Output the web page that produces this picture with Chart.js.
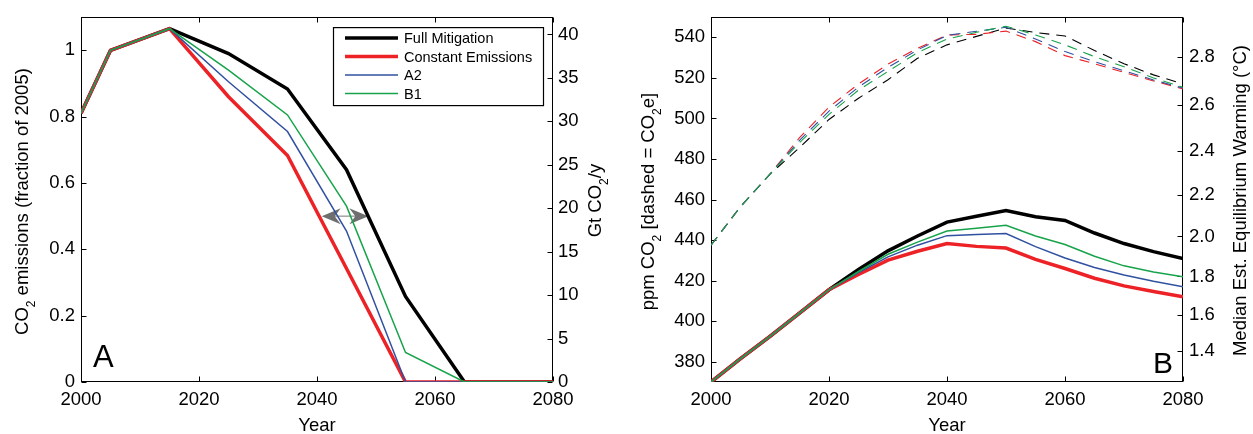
<!DOCTYPE html>
<html>
<head>
<meta charset="utf-8">
<script src="https://cdn.jsdelivr.net/npm/chart.js@4.4.0/dist/chart.umd.min.js"></script>
<style>
  html, body { margin: 0; padding: 0; background: #fff; }
  #wrap { position: relative; width: 1253px; height: 434px; }
  canvas { position: absolute; top: 0; }
  #chartA { left: 0; }
  #chartB { left: 626px; }
</style>
</head>
<body>
<div id="wrap">
  <canvas id="chartA" width="626" height="434"></canvas>
  <canvas id="chartB" width="627" height="434"></canvas>
</div>
<script>
// ---- panel A : emissions (fraction of 2005) ----
const emisYears  = [2000, 2005, 2015, 2025, 2035, 2045, 2055, 2065, 2080];
const emisFull   = [0.81, 1.0, 1.065, 0.99, 0.883, 0.64, 0.258, 0, 0];
const emisConst  = [0.81, 1.0, 1.065, 0.86, 0.683, 0.342, 0, 0, 0];
const emisA2     = [0.81, 1.0, 1.065, 0.905, 0.755, 0.455, 0, 0, 0];
const emisB1     = [0.81, 1.0, 1.065, 0.94, 0.805, 0.53, 0.089, 0, 0];
const fracTicks  = [0, 0.2, 0.4, 0.6, 0.8, 1];
const gtTicks    = [0, 5, 10, 15, 20, 25, 30, 35, 40];
const arrowYears = [2040.8, 2048.7];
const arrowValue = 0.5;

// ---- panel B : concentrations ----
const concYears  = [2000, 2005, 2010, 2015, 2020, 2025, 2030, 2035, 2040, 2045, 2050, 2055, 2060, 2065, 2070, 2075, 2080];
const co2Full    = [370, 381.5, 392.5, 404, 415.5, 425.5, 434.7, 442, 448.9, 451.8, 454.6, 451.5, 449.7, 443.5, 438.3, 434.3, 430.9];
const co2Const   = [370, 381.5, 392.5, 404, 415.5, 423, 430.1, 434.5, 438.3, 436.9, 436.1, 430.5, 426, 421.2, 417.4, 414.6, 412.1];
const co2A2      = [370, 381.5, 392.5, 404, 415.5, 424, 431.7, 437.5, 442.2, 442.7, 443.2, 436.8, 431.2, 426.5, 422.8, 419.7, 417];
const co2B1      = [370, 381.5, 392.5, 404, 415.5, 424.5, 433, 439, 444.5, 445.8, 447.3, 442, 437.8, 432, 427.3, 424.3, 421.9];
const co2eFull   = [437.5, 456.5, 472.5, 485.6, 499.5, 510, 519.1, 529.7, 536.3, 540.5, 544.6, 542.4, 540.7, 533.5, 527, 521.5, 517];
const co2eConst  = [437.5, 456.5, 472.5, 490.5, 505.6, 517, 526.8, 534.6, 541.2, 541.5, 543.1, 537.9, 531, 527, 522.7, 518.5, 514.6];
const co2eA2     = [437.5, 456.5, 472.5, 489.2, 503.6, 515.5, 525.2, 533.8, 541, 543, 545, 539.2, 533, 528, 523.5, 519, 515];
const co2eB1     = [437.5, 456.5, 472.5, 488.1, 502, 514, 523.2, 532.5, 539.2, 542.5, 545.5, 541.2, 536.3, 530.5, 525.5, 520, 515.4];
const ppmTicks   = [380, 400, 420, 440, 460, 480, 500, 520, 540];
const warmTicks  = [1.4, 1.6, 1.8, 2.0, 2.2, 2.4, 2.6, 2.8];
const sensitivity = 3.04;   // degC per doubling, pre-industrial 280 ppm
const preIndustrial = 280;

const yearTicks = [2000, 2020, 2040, 2060, 2080];
const seriesNames = ['Full Mitigation', 'Constant Emissions', 'A2', 'B1'];
const colors = ['#000000', '#ec2227', '#3050a0', '#17a34a'];
const widths = [3.5, 3.5, 1.5, 1.5];

const FONT = '"Liberation Sans", Arial, Helvetica, sans-serif';
Chart.defaults.font.family = FONT;
Chart.defaults.color = '#000';

function pts(xs, ys) { return xs.map((x, i) => ({ x: x, y: ys[i] })); }
function warmToPpm(t) { return preIndustrial * Math.pow(2, t / sensitivity); }

// draw text made of parts, some of them subscripts; rotated about (x, y) baseline-centre
function richText(ctx, parts, x, y, rot, size) {
  ctx.save();
  ctx.translate(x, y);
  ctx.rotate(rot);
  ctx.textBaseline = 'alphabetic';
  ctx.textAlign = 'left';
  let total = 0;
  const w = parts.map(p => {
    ctx.font = (p[1] ? size * 0.65 : size) + 'px ' + FONT;
    const m = ctx.measureText(p[0]).width;
    total += m;
    return m;
  });
  let cx = -total / 2;
  parts.forEach((p, i) => {
    ctx.font = (p[1] ? size * 0.65 : size) + 'px ' + FONT;
    ctx.fillText(p[0], cx, p[1] ? size * 0.38 : 0);
    cx += w[i];
  });
  ctx.restore();
}

// box around the plot and MATLAB-style inward ticks
const frame = {
  id: 'frame',
  beforeDatasetsDraw(chart) {
    const { ctx, chartArea: a } = chart;
    const L = Math.round(a.left) + 0.5, R = Math.round(a.right) - 0.5;
    const T = Math.round(a.top) + 0.5, B = Math.round(a.bottom) - 0.5;
    ctx.save();
    ctx.strokeStyle = '#000';
    ctx.lineWidth = 1;
    ctx.strokeRect(L, T, R - L, B - T);
    ctx.beginPath();
    Object.values(chart.scales).forEach(s => {
      s.ticks.forEach(t => {
        const p = Math.round(s.getPixelForValue(t.value)) + 0.5;
        if (s.isHorizontal()) {
          ctx.moveTo(p, B); ctx.lineTo(p, B - 5);
          ctx.moveTo(p, T); ctx.lineTo(p, T + 5);
        } else if (s.position === 'left') {
          ctx.moveTo(L, p); ctx.lineTo(L + 5, p);
        } else {
          ctx.moveTo(R, p); ctx.lineTo(R - 5, p);
        }
      });
    });
    ctx.stroke();
    ctx.restore();
  }
};

// axis titles, panel letter, legend, arrow
const decor = {
  id: 'decor',
  beforeDatasetsDraw(chart, args, opts) {
    if (!opts.arrow) return;
    const { ctx } = chart;
    const x1 = chart.scales.x.getPixelForValue(opts.arrow.from);
    const x2 = chart.scales.x.getPixelForValue(opts.arrow.to);
    const y = chart.scales.y.getPixelForValue(opts.arrow.value);
    ctx.save();
    ctx.strokeStyle = '#777';
    ctx.lineWidth = 1;
    ctx.beginPath(); ctx.moveTo(x1 + 12, y); ctx.lineTo(x2 - 12, y); ctx.stroke();
    ctx.fillStyle = '#6e6e6e';
    [[x1, 1], [x2, -1]].forEach(([tx, d]) => {
      ctx.beginPath();
      ctx.moveTo(tx, y);
      ctx.lineTo(tx + d * 19, y - 8);
      ctx.lineTo(tx + d * 13, y);
      ctx.lineTo(tx + d * 19, y + 8);
      ctx.closePath();
      ctx.fill();
    });
    ctx.restore();
  },
  afterDraw(chart, args, opts) {
    const { ctx, chartArea: a } = chart;
    const midY = (a.top + a.bottom) / 2;
    const size = 18.5;
    ctx.save();
    ctx.fillStyle = '#000';
    if (opts.leftTitle) richText(ctx, opts.leftTitle, a.left - opts.leftGap, midY + 2, -Math.PI / 2, size);
    if (opts.rightTitle) richText(ctx, opts.rightTitle, a.right + opts.rightGap, midY + 1, -Math.PI / 2, size);
    richText(ctx, [['Year', false]], (a.left + a.right) / 2, 431, 0, size);
    // panel letter
    ctx.font = opts.letter.size + 'px ' + FONT;
    ctx.textBaseline = 'alphabetic';
    ctx.textAlign = 'left';
    ctx.fillText(opts.letter.text, a.left + opts.letter.dx, a.bottom - opts.letter.dy);
    // legend
    if (opts.legend) {
      const bx = a.right - 220, by = a.top + 10, bw = 210, bh = 78;
      ctx.fillStyle = '#fff';
      ctx.fillRect(bx, by, bw, bh);
      ctx.strokeStyle = '#000';
      ctx.lineWidth = 1.2;
      ctx.strokeRect(bx + 0.5, by + 0.5, bw, bh);
      ctx.font = '14.5px ' + FONT;
      ctx.textBaseline = 'middle';
      seriesNames.forEach((name, i) => {
        const ry = by + 11 + i * 18.5;
        ctx.strokeStyle = colors[i];
        ctx.lineWidth = widths[i];
        ctx.beginPath(); ctx.moveTo(bx + 12, ry); ctx.lineTo(bx + 65, ry); ctx.stroke();
        ctx.fillStyle = '#000';
        ctx.fillText(name, bx + 71, ry + 1);
      });
    }
    ctx.restore();
  }
};

function lineSet(label, data, i, dashed, yAxisID) {
  return {
    label: label,
    data: data,
    borderColor: colors[i],
    borderWidth: dashed ? 1.1 : widths[i],
    borderDash: dashed ? [10, 7] : [],
    pointRadius: 0,
    tension: 0,
    fill: false,
    borderJoinStyle: 'miter',
    yAxisID: yAxisID,
    order: 3 - i + (dashed ? 10 : 0)
  };
}

function xScale() {
  return {
    type: 'linear', position: 'bottom', min: 2000, max: 2080,
    afterBuildTicks: s => { s.ticks = yearTicks.map(v => ({ value: v })); },
    afterFit: s => { s.height = 52; },
    grid: { display: false, drawTicks: false },
    border: { display: false },
    ticks: { font: { size: 18.5 }, padding: 7, maxRotation: 0, callback: v => String(v) }
  };
}

function baseOptions() {
  return {
    responsive: false,
    animation: false,
    devicePixelRatio: 1,
    events: [],
    layout: { padding: { top: 15, left: 0, right: 0, bottom: 0 } },
    plugins: { legend: { display: false }, tooltip: { enabled: false } }
  };
}

// ---------- chart A ----------
const optsA = baseOptions();
optsA.scales = {
  x: xScale(),
  y: {
    type: 'linear', position: 'left', min: 0, max: 1.1,
    afterBuildTicks: s => { s.ticks = fracTicks.map(v => ({ value: v })); },
    afterFit: s => { s.width = 81; },
    grid: { display: false, drawTicks: false },
    border: { display: false },
    ticks: { font: { size: 18.5 }, padding: 6, callback: (v, i) => String(fracTicks[i]) }
  },
  y2: {
    type: 'linear', position: 'right', min: 0, max: 42,
    afterBuildTicks: s => { s.ticks = gtTicks.map(v => ({ value: v })); },
    afterFit: s => { s.width = 73; },
    grid: { display: false, drawTicks: false },
    border: { display: false },
    ticks: { font: { size: 18.5 }, padding: 5, callback: (v, i) => String(gtTicks[i]) }
  }
};
optsA.plugins.decor = {
  leftTitle: [['CO', false], ['2', true], [' emissions (fraction of 2005)', false]],
  leftGap: 53.5,
  rightTitle: [['Gt CO', false], ['2', true], ['/y', false]],
  rightGap: 48,
  letter: { text: 'A', size: 31, dx: 12, dy: 15 },
  legend: true,
  arrow: { from: arrowYears[0], to: arrowYears[1], value: arrowValue }
};

new Chart(document.getElementById('chartA'), {
  type: 'line',
  data: {
    datasets: [
      lineSet(seriesNames[0], pts(emisYears, emisFull), 0, false, 'y'),
      lineSet(seriesNames[1], pts(emisYears, emisConst), 1, false, 'y'),
      lineSet(seriesNames[2], pts(emisYears, emisA2), 2, false, 'y'),
      lineSet(seriesNames[3], pts(emisYears, emisB1), 3, false, 'y')
    ]
  },
  options: optsA,
  plugins: [frame, decor]
});

// ---------- chart B ----------
const optsB = baseOptions();
optsB.scales = {
  x: xScale(),
  y: {
    type: 'linear', position: 'left', min: 370, max: 550,
    afterBuildTicks: s => { s.ticks = ppmTicks.map(v => ({ value: v })); },
    afterFit: s => { s.width = 85; },
    grid: { display: false, drawTicks: false },
    border: { display: false },
    ticks: { font: { size: 18.5 }, padding: 6, callback: (v, i) => String(ppmTicks[i]) }
  },
  y2: {
    type: 'linear', position: 'right', min: 370, max: 550,
    afterBuildTicks: s => { s.ticks = warmTicks.map(t => ({ value: warmToPpm(t) })); },
    afterFit: s => { s.width = 70; },
    grid: { display: false, drawTicks: false },
    border: { display: false },
    ticks: { font: { size: 18.5 }, padding: 6, callback: (v, i) => warmTicks[i].toFixed(1) }
  }
};
optsB.plugins.decor = {
  leftTitle: [['ppm CO', false], ['2', true], [' [dashed = CO', false], ['2', true], ['e]', false]],
  leftGap: 57.5,
  rightTitle: [['Median Est. Equilibrium Warming (\u00B0C)', false]],
  rightGap: 63,
  letter: { text: 'B', size: 30, dx: 442, dy: 9 },
  legend: false
};

new Chart(document.getElementById('chartB'), {
  type: 'line',
  data: {
    datasets: [
      lineSet(seriesNames[0], pts(concYears, co2Full), 0, false, 'y'),
      lineSet(seriesNames[1], pts(concYears, co2Const), 1, false, 'y'),
      lineSet(seriesNames[2], pts(concYears, co2A2), 2, false, 'y'),
      lineSet(seriesNames[3], pts(concYears, co2B1), 3, false, 'y'),
      lineSet(seriesNames[0] + ' CO2e', pts(concYears, co2eFull), 0, true, 'y'),
      lineSet(seriesNames[1] + ' CO2e', pts(concYears, co2eConst), 1, true, 'y'),
      lineSet(seriesNames[2] + ' CO2e', pts(concYears, co2eA2), 2, true, 'y'),
      lineSet(seriesNames[3] + ' CO2e', pts(concYears, co2eB1), 3, true, 'y')
    ]
  },
  options: optsB,
  plugins: [frame, decor]
});
</script>
</body>
</html>
